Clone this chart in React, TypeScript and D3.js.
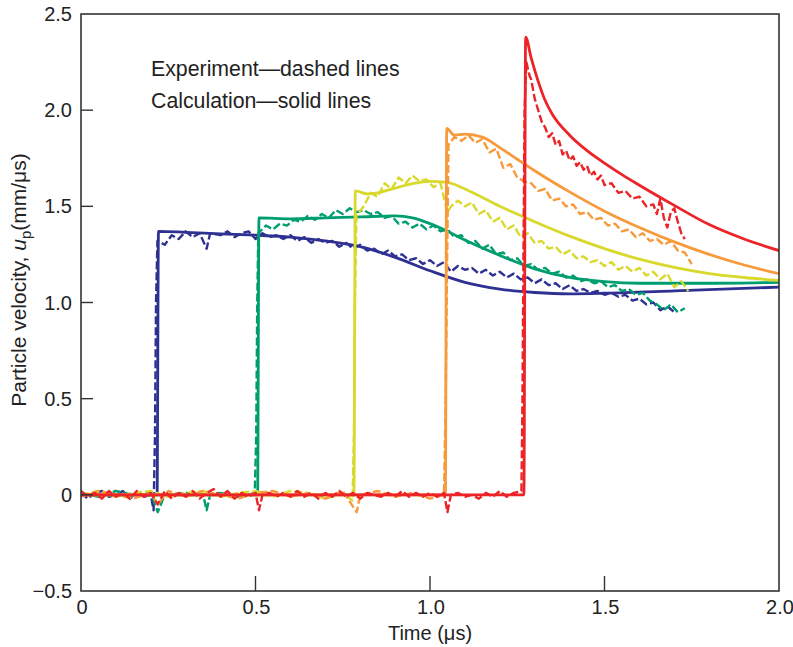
import * as d3 from "d3";

type Pt = [number, number];

// calculation (solid) traces: [time µs, velocity mm/µs]
const blueCalc: Pt[] = [
  [0, 0], [0.218, 0], [0.222, 1.37], [0.3, 1.365], [0.4, 1.357], [0.5, 1.35], [0.6, 1.34],
  [0.7, 1.32], [0.8, 1.29], [0.9, 1.235], [1.0, 1.165], [1.1, 1.105], [1.2, 1.07],
  [1.3, 1.052], [1.4, 1.045], [1.5, 1.048], [1.7, 1.06], [2.0, 1.08],
];
const greenCalc: Pt[] = [
  [0, 0], [0.506, 0], [0.51, 1.44], [0.6, 1.435], [0.7, 1.44], [0.8, 1.445], [0.9, 1.45],
  [0.95, 1.44], [1.0, 1.41], [1.05, 1.37], [1.1, 1.325], [1.2, 1.245], [1.3, 1.175],
  [1.4, 1.13], [1.5, 1.108], [1.6, 1.1], [1.8, 1.1], [2.0, 1.105],
];
const yellowCalc: Pt[] = [
  [0, 0], [0.782, 0], [0.786, 1.58], [0.82, 1.565], [0.85, 1.57], [0.9, 1.595],
  [0.95, 1.618], [1.0, 1.63], [1.05, 1.625], [1.1, 1.59], [1.2, 1.5], [1.3, 1.42],
  [1.4, 1.345], [1.5, 1.28], [1.6, 1.225], [1.7, 1.182], [1.8, 1.15], [1.9, 1.13], [2.0, 1.115],
];
const orangeCalc: Pt[] = [
  [0, 0], [1.044, 0], [1.048, 1.905], [1.07, 1.87], [1.1, 1.875], [1.15, 1.86], [1.2, 1.805],
  [1.25, 1.745], [1.3, 1.685], [1.4, 1.575], [1.5, 1.475], [1.6, 1.39], [1.7, 1.315],
  [1.8, 1.25], [1.9, 1.195], [2.0, 1.15],
];
const redCalc: Pt[] = [
  [0, 0], [1.269, 0], [1.274, 2.38], [1.29, 2.27], [1.31, 2.15], [1.33, 2.05], [1.35, 1.98],
  [1.4, 1.87], [1.45, 1.79], [1.5, 1.725], [1.55, 1.665], [1.6, 1.61], [1.7, 1.505],
  [1.8, 1.405], [1.9, 1.33], [2.0, 1.27],
];

// experiment (dashed) traces
const blueExp: Pt[] = [
  [0, 0.01], [0.02, -0.02], [0.04, 0.01], [0.06, 0.02], [0.08, -0.01], [0.1, 0.0], [0.12, 0.02],
  [0.14, -0.02], [0.16, 0.01], [0.18, -0.01], [0.2, 0.0], [0.208, -0.08], [0.212, 0.3],
  [0.215, 1.0], [0.219, 1.32], [0.24, 1.3], [0.26, 1.35], [0.28, 1.33], [0.3, 1.37],
  [0.32, 1.34], [0.34, 1.36], [0.36, 1.28], [0.37, 1.36], [0.4, 1.35], [0.42, 1.37],
  [0.44, 1.34], [0.46, 1.36], [0.48, 1.37], [0.5, 1.33], [0.52, 1.36], [0.54, 1.34],
  [0.56, 1.35], [0.58, 1.33], [0.6, 1.35], [0.62, 1.32], [0.64, 1.34], [0.66, 1.31],
  [0.68, 1.33], [0.7, 1.31], [0.72, 1.32], [0.74, 1.29], [0.76, 1.31], [0.78, 1.28],
  [0.8, 1.3], [0.82, 1.27], [0.84, 1.28], [0.86, 1.25], [0.88, 1.27], [0.9, 1.24],
  [0.92, 1.25], [0.94, 1.22], [0.96, 1.23], [0.98, 1.2], [1.0, 1.22], [1.02, 1.19],
  [1.04, 1.21], [1.06, 1.16], [1.08, 1.19], [1.1, 1.17], [1.12, 1.18], [1.14, 1.15],
  [1.16, 1.17], [1.18, 1.14], [1.2, 1.16], [1.22, 1.13], [1.24, 1.15], [1.26, 1.12],
  [1.28, 1.13], [1.3, 1.1], [1.32, 1.12], [1.34, 1.09], [1.36, 1.1], [1.38, 1.07],
  [1.4, 1.09], [1.42, 1.06], [1.44, 1.07], [1.46, 1.05], [1.48, 1.06], [1.5, 1.04],
  [1.52, 1.05], [1.54, 1.03], [1.56, 1.04], [1.58, 1.01], [1.6, 1.02], [1.62, 0.99],
  [1.64, 1.0], [1.66, 0.96], [1.68, 0.98], [1.7, 0.95],
];
const greenExp: Pt[] = [
  [0, 0.01], [0.05, -0.01], [0.1, 0.02], [0.15, 0.0], [0.2, 0.01], [0.22, -0.09], [0.24, 0.0],
  [0.3, 0.01], [0.35, 0.0], [0.36, -0.08], [0.37, 0.0], [0.4, 0.01], [0.45, -0.01],
  [0.498, 0.01], [0.502, 0.3], [0.505, 1.0], [0.508, 1.36], [0.53, 1.4], [0.55, 1.38],
  [0.57, 1.41], [0.59, 1.4], [0.61, 1.43], [0.63, 1.42], [0.65, 1.45], [0.67, 1.43],
  [0.69, 1.46], [0.71, 1.44], [0.73, 1.48], [0.75, 1.46], [0.77, 1.49], [0.79, 1.47],
  [0.81, 1.48], [0.83, 1.46], [0.85, 1.47], [0.87, 1.44], [0.89, 1.45], [0.91, 1.41],
  [0.93, 1.42], [0.95, 1.39], [0.97, 1.41], [0.99, 1.38], [1.01, 1.4], [1.03, 1.37],
  [1.05, 1.38], [1.07, 1.34], [1.09, 1.35], [1.11, 1.31], [1.13, 1.32], [1.15, 1.28],
  [1.17, 1.3], [1.19, 1.25], [1.21, 1.26], [1.23, 1.22], [1.25, 1.23], [1.27, 1.19],
  [1.29, 1.2], [1.31, 1.17], [1.33, 1.18], [1.35, 1.15], [1.37, 1.16], [1.39, 1.13],
  [1.41, 1.14], [1.43, 1.11], [1.45, 1.12], [1.47, 1.1], [1.49, 1.11], [1.51, 1.08],
  [1.53, 1.09], [1.55, 1.06], [1.57, 1.07], [1.59, 1.04], [1.61, 1.05], [1.63, 1.01],
  [1.65, 0.99], [1.67, 0.96], [1.69, 0.99], [1.71, 0.95], [1.73, 0.97],
];
const yellowExp: Pt[] = [
  [0, 0.0], [0.05, 0.02], [0.1, -0.01], [0.15, 0.01], [0.2, 0.02], [0.25, -0.01], [0.3, 0.01],
  [0.35, 0.02], [0.4, -0.01], [0.45, 0.01], [0.5, 0.02], [0.55, -0.01], [0.6, 0.02],
  [0.65, 0.01], [0.7, -0.02], [0.75, 0.01], [0.778, -0.03], [0.782, 0.3], [0.785, 1.0],
  [0.789, 1.45], [0.81, 1.5], [0.83, 1.57], [0.85, 1.55], [0.87, 1.62], [0.89, 1.59],
  [0.91, 1.65], [0.93, 1.62], [0.95, 1.66], [0.97, 1.63], [0.99, 1.64], [1.01, 1.6],
  [1.03, 1.62], [1.05, 1.47], [1.06, 1.5], [1.08, 1.53], [1.1, 1.5], [1.12, 1.52],
  [1.14, 1.46], [1.16, 1.48], [1.18, 1.42], [1.2, 1.44], [1.22, 1.38], [1.24, 1.4],
  [1.26, 1.34], [1.28, 1.36], [1.3, 1.31], [1.32, 1.32], [1.34, 1.28], [1.36, 1.29],
  [1.38, 1.25], [1.4, 1.27], [1.42, 1.23], [1.44, 1.24], [1.46, 1.21], [1.48, 1.22],
  [1.5, 1.19], [1.52, 1.21], [1.54, 1.17], [1.56, 1.19], [1.58, 1.16], [1.6, 1.18],
  [1.62, 1.14], [1.64, 1.16], [1.66, 1.12], [1.68, 1.15], [1.7, 1.08], [1.72, 1.11],
  [1.74, 1.06],
];
const orangeExp: Pt[] = [
  [0, -0.01], [0.05, 0.02], [0.1, 0.0], [0.15, -0.02], [0.2, 0.01], [0.22, -0.05], [0.25, 0.02],
  [0.3, -0.01], [0.35, 0.02], [0.4, 0.0], [0.45, -0.02], [0.5, 0.01], [0.55, 0.02],
  [0.6, -0.01], [0.65, 0.01], [0.7, -0.02], [0.75, 0.02], [0.79, -0.09], [0.8, 0.0],
  [0.85, 0.02], [0.9, -0.01], [0.95, 0.01], [1.0, -0.02], [1.04, 0.0], [1.045, 0.5],
  [1.049, 1.2], [1.053, 1.82], [1.07, 1.86], [1.09, 1.84], [1.11, 1.87], [1.13, 1.83],
  [1.15, 1.85], [1.17, 1.78], [1.19, 1.8], [1.21, 1.7], [1.23, 1.72], [1.25, 1.65],
  [1.27, 1.63], [1.29, 1.62], [1.31, 1.58], [1.33, 1.59], [1.35, 1.53], [1.37, 1.54],
  [1.39, 1.5], [1.41, 1.51], [1.43, 1.46], [1.45, 1.47], [1.47, 1.43], [1.49, 1.44],
  [1.51, 1.4], [1.53, 1.41], [1.55, 1.37], [1.57, 1.38], [1.59, 1.34], [1.61, 1.36],
  [1.63, 1.32], [1.65, 1.33], [1.67, 1.3], [1.69, 1.32], [1.71, 1.27], [1.73, 1.26],
  [1.75, 1.2],
];
const redExp: Pt[] = [
  [0, 0.02], [0.02, -0.01], [0.04, 0.01], [0.06, -0.02], [0.08, 0.02], [0.1, -0.01],
  [0.12, 0.01], [0.14, -0.02], [0.16, 0.02], [0.18, -0.01], [0.2, 0.01], [0.22, -0.05],
  [0.24, 0.02], [0.26, -0.02], [0.28, 0.01], [0.3, -0.01], [0.32, 0.02], [0.34, -0.02],
  [0.36, 0.01], [0.38, 0.03], [0.4, -0.01], [0.42, 0.02], [0.44, -0.02], [0.46, 0.01],
  [0.48, -0.01], [0.5, 0.01], [0.51, -0.08], [0.52, 0.0], [0.54, 0.01], [0.56, -0.01],
  [0.58, 0.01], [0.6, -0.01], [0.62, 0.02], [0.64, -0.01], [0.66, 0.01], [0.68, -0.02],
  [0.7, 0.01], [0.72, -0.01], [0.74, 0.02], [0.76, -0.01], [0.78, 0.01], [0.8, -0.02],
  [0.82, 0.01], [0.84, 0.0], [0.86, -0.01], [0.88, 0.01], [0.9, -0.01], [0.92, 0.02],
  [0.94, -0.01], [0.96, 0.01], [0.98, -0.01], [1.0, 0.01], [1.02, -0.01], [1.04, 0.01],
  [1.05, -0.09], [1.06, 0.0], [1.08, 0.01], [1.1, -0.01], [1.12, 0.0], [1.14, -0.02],
  [1.16, 0.01], [1.18, -0.01], [1.2, 0.02], [1.22, -0.01], [1.24, 0.01], [1.262, 0.02],
  [1.265, 0.5], [1.268, 1.3], [1.271, 2.0], [1.276, 2.25], [1.285, 2.18], [1.29, 2.16],
  [1.3, 2.06], [1.31, 2.0], [1.32, 1.94], [1.33, 1.91], [1.34, 1.86], [1.35, 1.88],
  [1.36, 1.82], [1.37, 1.84], [1.38, 1.77], [1.39, 1.79], [1.4, 1.74], [1.41, 1.76],
  [1.42, 1.71], [1.43, 1.73], [1.44, 1.69], [1.45, 1.71], [1.46, 1.66], [1.47, 1.68],
  [1.48, 1.64], [1.49, 1.66], [1.5, 1.61], [1.52, 1.62], [1.54, 1.57], [1.56, 1.58],
  [1.58, 1.54], [1.6, 1.55], [1.62, 1.5], [1.64, 1.51], [1.65, 1.46], [1.66, 1.54],
  [1.67, 1.44], [1.68, 1.39], [1.69, 1.47], [1.7, 1.49], [1.71, 1.42], [1.72, 1.36],
  [1.73, 1.33],
];

const traces = [
  { color: "#2e3192", calc: blueCalc, exp: blueExp },
  { color: "#009e6e", calc: greenCalc, exp: greenExp },
  { color: "#d9d82c", calc: yellowCalc, exp: yellowExp },
  { color: "#f79a3c", calc: orangeCalc, exp: orangeExp },
  { color: "#ec2327", calc: redCalc, exp: redExp },
];

const xTicks = [0, 0.5, 1.0, 1.5, 2.0];
const yTicks = [-0.5, 0, 0.5, 1.0, 1.5, 2.0, 2.5];
const legendLines = ["Experiment\u2014dashed lines", "Calculation\u2014solid lines"];

const W = 793;
const H = 647;
const left = 81;
const right = 779;
const top = 14;
const bottom = 591;
const font = "'Liberation Sans', Arial, Helvetica, sans-serif";

export default function App() {
  const x = d3.scaleLinear().domain([0, 2]).range([left, right]);
  const y = d3.scaleLinear().domain([-0.5, 2.5]).range([bottom, top]);
  const expLine = d3
    .line<Pt>()
    .x((d) => x(d[0]))
    .y((d) => y(d[1]));
  // calculations are smooth curves
  const calcLine = d3
    .line<Pt>()
    .x((d) => x(d[0]))
    .y((d) => y(d[1]))
    .curve(d3.curveMonotoneX);

  const fmtY = (v: number) => (v === 0 ? "0" : v < 0 ? "\u2212" + Math.abs(v).toFixed(1) : v.toFixed(1));
  const fmtX = (v: number) => (v === 0 ? "0" : v.toFixed(1));

  return (
    <svg
      width={W}
      height={H}
      style={{ position: "absolute", left: 0, top: 0, background: "#fff" }}
      fontFamily={font}
    >
      <defs>
        <clipPath id="plot">
          <rect x={left} y={top} width={right - left} height={bottom - top} />
        </clipPath>
      </defs>

      <g clipPath="url(#plot)" fill="none" strokeLinejoin="round">
        {traces.map((t, i) => (
          <g key={i}>
            <path d={expLine(t.exp) ?? ""} stroke={t.color} strokeWidth={2.4} strokeDasharray="8,3" />
            <path d={calcLine(t.calc) ?? ""} stroke={t.color} strokeWidth={2.8} />
          </g>
        ))}
      </g>

      {/* frame */}
      <rect x={left} y={top} width={right - left} height={bottom - top} fill="none" stroke="#333" strokeWidth={1.6} />

      {/* y ticks */}
      {yTicks.map((v) => (
        <g key={"y" + v}>
          {v > -0.5 && v < 2.5 && (
            <line x1={left} x2={left + 12} y1={y(v)} y2={y(v)} stroke="#333" strokeWidth={1.4} />
          )}
          <text x={72} y={y(v) + 7} textAnchor="end" fontSize={20} fill="#222">
            {fmtY(v)}
          </text>
        </g>
      ))}

      {/* x ticks */}
      {xTicks.map((v) => (
        <g key={"x" + v}>
          {v > 0 && v < 2 && (
            <line x1={x(v)} x2={x(v)} y1={bottom} y2={bottom - 15} stroke="#333" strokeWidth={1.4} />
          )}
          <text x={x(v) + 1} y={614} textAnchor="middle" fontSize={20} fill="#222">
            {fmtX(v)}
          </text>
        </g>
      ))}

      <text x={(left + right) / 2} y={640} textAnchor="middle" fontSize={20} fill="#222">
        Time (μs)
      </text>

      <text transform="translate(26,280) rotate(-90)" textAnchor="middle" fontSize={21} fill="#222">
        Particle velocity, <tspan fontStyle="italic">u</tspan>
        <tspan fontSize={15} dy={5}>p</tspan>
        <tspan dy={-5}>(mm/μs)</tspan>
      </text>

      {legendLines.map((s, i) => (
        <text key={s} x={151} y={76 + i * 32} fontSize={21.3} fill="#222">
          {s}
        </text>
      ))}
    </svg>
  );
}
